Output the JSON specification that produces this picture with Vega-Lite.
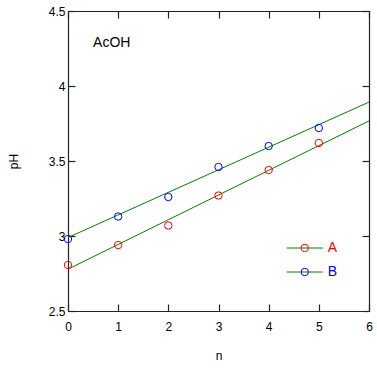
{
  "$schema": "https://vega.github.io/schema/vega-lite/v6.json",
  "width": 301,
  "height": 300,
  "autosize": "none",
  "padding": {"left": 68, "top": 11, "right": 8, "bottom": 58},
  "background": "white",
  "config": {
    "view": {"stroke": null},
    "font": "Liberation Sans",
    "axis": {"grid": false, "domainColor": "#222", "tickColor": "#222", "labelColor": "#000", "titleColor": "#000", "labelFont": "Liberation Sans", "titleFont": "Liberation Sans", "labelFontSize": 12, "titleFontSize": 12, "titleFontWeight": "normal", "tickSize": -7, "domainWidth": 1.2, "tickWidth": 1.2, "labelFlush": false, "labelOverlap": false, "format": "~g"}
  },
  "datasets": {
    "points": [
      {"n": 0, "pH": 2.807, "series": "A"},
      {"n": 1, "pH": 2.94, "series": "A"},
      {"n": 2, "pH": 3.07, "series": "A"},
      {"n": 3, "pH": 3.27, "series": "A"},
      {"n": 4, "pH": 3.44, "series": "A"},
      {"n": 5, "pH": 3.62, "series": "A"},
      {"n": 0, "pH": 2.98, "series": "B"},
      {"n": 1, "pH": 3.13, "series": "B"},
      {"n": 2, "pH": 3.26, "series": "B"},
      {"n": 3, "pH": 3.46, "series": "B"},
      {"n": 4, "pH": 3.60, "series": "B"},
      {"n": 5, "pH": 3.72, "series": "B"}
    ],
    "fits": [
      {"n": 0, "pH": 2.779, "series": "A"},
      {"n": 6, "pH": 3.767, "series": "A"},
      {"n": 0, "pH": 2.99, "series": "B"},
      {"n": 6, "pH": 3.893, "series": "B"}
    ],
    "legend": [
      {"x1": 4.36, "x2": 5.08, "xc": 4.72, "xt": 5.18, "y": 2.92, "series": "A"},
      {"x1": 4.36, "x2": 5.08, "xc": 4.72, "xt": 5.18, "y": 2.76, "series": "B"}
    ],
    "note": [{"x": 0.5, "y": 4.29, "label": "AcOH"}]
  },
  "resolve": {"axis": {"x": "independent", "y": "independent"}},
  "layer": [
    {
      "data": {"name": "fits"},
      "mark": {"type": "line", "color": "#008000", "strokeWidth": 1, "clip": true},
      "encoding": {
        "x": {"field": "n", "type": "quantitative", "scale": {"domain": [0, 6], "nice": false}, "axis": {"orient": "bottom", "title": "n", "values": [0,1,2,3,4,5,6], "labelPadding": 17, "titlePadding": 18}},
        "y": {"field": "pH", "type": "quantitative", "scale": {"domain": [2.5, 4.5], "nice": false, "zero": false}, "axis": {"orient": "left", "title": "pH", "values": [2.5,3,3.5,4,4.5], "labelPadding": 10, "titlePadding": 28}},
        "detail": {"field": "series"}
      }
    },
    {
      "data": {"name": "points"},
      "mark": {"type": "point", "shape": "circle", "filled": false, "size": 55, "strokeWidth": 1, "opacity": 1},
      "encoding": {
        "x": {"field": "n", "type": "quantitative", "axis": {"orient": "top", "labels": false, "title": null, "values": [0,1,2,3,4,5,6]}},
        "y": {"field": "pH", "type": "quantitative", "axis": {"orient": "right", "labels": false, "title": null, "values": [2.5,3,3.5,4,4.5]}},
        "color": {"field": "series", "type": "nominal", "scale": {"domain": ["A", "B"], "range": ["#ff0000", "#0000ff"]}, "legend": null}
      }
    },
    {
      "data": {"name": "legend"},
      "mark": {"type": "rule", "color": "#008000", "strokeWidth": 1},
      "encoding": {
        "x": {"field": "x1", "type": "quantitative", "axis": null},
        "x2": {"field": "x2"},
        "y": {"field": "y", "type": "quantitative", "axis": null}
      }
    },
    {
      "data": {"name": "legend"},
      "mark": {"type": "point", "shape": "circle", "filled": false, "size": 55, "strokeWidth": 1, "opacity": 1},
      "encoding": {
        "x": {"field": "xc", "type": "quantitative", "axis": null},
        "y": {"field": "y", "type": "quantitative", "axis": null},
        "color": {"field": "series", "type": "nominal", "legend": null}
      }
    },
    {
      "data": {"name": "legend"},
      "mark": {"type": "text", "align": "left", "baseline": "middle", "fontSize": 14},
      "encoding": {
        "x": {"field": "xt", "type": "quantitative", "axis": null},
        "y": {"field": "y", "type": "quantitative", "axis": null},
        "text": {"field": "series"},
        "color": {"field": "series", "type": "nominal", "legend": null}
      }
    },
    {
      "data": {"name": "note"},
      "mark": {"type": "text", "align": "left", "baseline": "middle", "fontSize": 14, "color": "#000"},
      "encoding": {
        "x": {"field": "x", "type": "quantitative", "axis": null},
        "y": {"field": "y", "type": "quantitative", "axis": null},
        "text": {"field": "label"}
      }
    }
  ]
}
